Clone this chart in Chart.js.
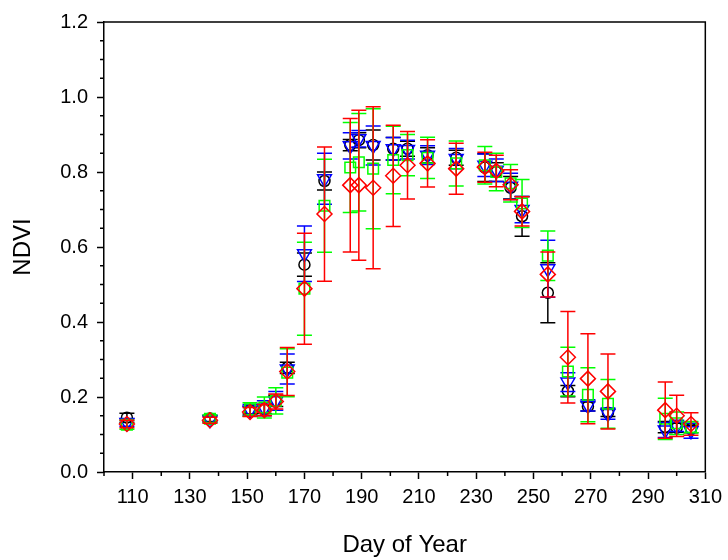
<!DOCTYPE html>
<html>
<head>
<meta charset="utf-8">
<title>NDVI by Day of Year</title>
<script src="https://cdn.jsdelivr.net/npm/chart.js@4.4.1/dist/chart.umd.min.js"></script>
<style>
    html, body { margin: 0; padding: 0; background: #ffffff; }
    canvas { display: block; }
</style>
</head>
<body>
<canvas id="ndviChart" width="728" height="560"></canvas>
<script>
// Sampling days (x)
const days = [108, 137, 151, 156, 160, 164, 170, 177, 186, 189, 194, 201, 206,
              213, 223, 233, 237, 242, 246, 255, 262, 269, 276, 296, 300, 305];

// NDVI means and error bar half-widths, one pair per marker series
const blackNdvi = [0.145, 0.143, 0.165, 0.168, 0.190, 0.278, 0.553, 0.776, 0.872, 0.885, 0.872, 0.862, 0.862,
                   0.845, 0.838, 0.812, 0.800, 0.758, 0.682, 0.478, 0.216, 0.175, 0.158, 0.120, 0.118, 0.115];
const blackErr  = [0.012, 0.008, 0.010, 0.012, 0.015, 0.015, 0.031, 0.024, 0.015, 0.020, 0.040, 0.030, 0.020,
                   0.020, 0.020, 0.037, 0.025, 0.030, 0.053, 0.080, 0.015, 0.012, 0.010, 0.015, 0.012, 0.010];

const blueNdvi  = [0.132, 0.140, 0.165, 0.170, 0.190, 0.275, 0.582, 0.782, 0.870, 0.889, 0.871, 0.862, 0.860,
                   0.845, 0.836, 0.818, 0.805, 0.762, 0.700, 0.542, 0.240, 0.178, 0.156, 0.112, 0.123, 0.110];
const blueErr   = [0.010, 0.008, 0.015, 0.020, 0.025, 0.040, 0.074, 0.068, 0.035, 0.022, 0.052, 0.030, 0.025,
                   0.025, 0.027, 0.030, 0.030, 0.035, 0.035, 0.076, 0.025, 0.015, 0.015, 0.020, 0.015, 0.020];

const greenNdvi = [0.126, 0.142, 0.167, 0.172, 0.190, 0.265, 0.489, 0.710, 0.812, 0.826, 0.809, 0.832, 0.845,
                   0.838, 0.823, 0.818, 0.800, 0.770, 0.716, 0.577, 0.268, 0.206, 0.182, 0.142, 0.130, 0.120];
const greenErr  = [0.012, 0.010, 0.018, 0.028, 0.035, 0.064, 0.124, 0.124, 0.120, 0.130, 0.160, 0.090, 0.055,
                   0.055, 0.060, 0.050, 0.050, 0.050, 0.064, 0.066, 0.065, 0.072, 0.065, 0.055, 0.030, 0.015];

const redNdvi   = [0.128, 0.138, 0.160, 0.165, 0.188, 0.268, 0.489, 0.688, 0.765, 0.765, 0.758, 0.790, 0.818,
                   0.823, 0.809, 0.813, 0.803, 0.766, 0.695, 0.527, 0.306, 0.249, 0.215, 0.165, 0.150, 0.128];
const redErr    = [0.010, 0.008, 0.012, 0.015, 0.020, 0.064, 0.148, 0.179, 0.178, 0.200, 0.216, 0.135, 0.090,
                   0.063, 0.068, 0.040, 0.042, 0.040, 0.039, 0.060, 0.122, 0.120, 0.100, 0.075, 0.055, 0.030];

// Axis ticks
const xMin = 100, xMax = 310, xStep = 10;
const xLabelTicks = [110, 130, 150, 170, 190, 210, 230, 250, 270, 290, 310];
const yMin = 0, yMax = 1.2, yStep = 0.05;
const yLabelTicks = [0.0, 0.2, 0.4, 0.6, 0.8, 1.0, 1.2];

const FONT = 'Arial, "Liberation Sans", Helvetica, sans-serif';
const MINOR_TICK = 4;

function points(ys) {
    return days.map((d, i) => ({ x: d, y: ys[i] }));
}

function isXLabel(v) {
    return xLabelTicks.includes(v);
}

function isYLabel(v) {
    return yLabelTicks.some(t => Math.abs(t - v) < 1e-6);
}

// Vertical error bars with caps, drawn just under each dataset's markers
const errorBars = {
    id: 'errorBars',
    beforeDatasetDraw(chart, args) {
        const ds = chart.data.datasets[args.index];
        if (!ds.errors) return;
        const yScale = chart.scales.y;
        const ctx = chart.ctx;
        ctx.save();
        ctx.strokeStyle = ds.borderColor;
        ctx.lineWidth = 1.5;
        args.meta.data.forEach((pt, i) => {
            const v = ds.data[i].y;
            const e = ds.errors[i];
            const top = yScale.getPixelForValue(v + e);
            const bot = yScale.getPixelForValue(v - e);
            ctx.beginPath();
            ctx.moveTo(pt.x, top);
            ctx.lineTo(pt.x, bot);
            ctx.moveTo(pt.x - 7.5, top);
            ctx.lineTo(pt.x + 7.5, top);
            ctx.moveTo(pt.x - 7.5, bot);
            ctx.lineTo(pt.x + 7.5, bot);
            ctx.stroke();
        });
        ctx.restore();
    }
};

// Top and right edges of the plot box, plus the short minor ticks
const frame = {
    id: 'frame',
    afterDraw(chart) {
        const { ctx, chartArea: a, scales } = chart;
        ctx.save();
        ctx.strokeStyle = '#000';
        ctx.lineWidth = 1.5;
        ctx.beginPath();
        ctx.moveTo(a.left, a.top);
        ctx.lineTo(a.right, a.top);
        ctx.lineTo(a.right, a.bottom);
        scales.x.ticks.forEach(t => {
            if (isXLabel(t.value)) return;
            const px = scales.x.getPixelForValue(t.value);
            ctx.moveTo(px, a.bottom);
            ctx.lineTo(px, a.bottom + MINOR_TICK);
        });
        scales.y.ticks.forEach(t => {
            if (isYLabel(t.value)) return;
            const py = scales.y.getPixelForValue(t.value);
            ctx.moveTo(a.left, py);
            ctx.lineTo(a.left - MINOR_TICK, py);
        });
        ctx.stroke();
        ctx.restore();
    }
};

const ctx = document.getElementById('ndviChart');
new Chart(ctx.getContext('2d'), {
    type: 'scatter',
    data: {
        datasets: [
            {
                label: 'Black',
                data: points(blackNdvi),
                errors: blackErr,
                borderColor: '#000000',
                pointStyle: 'circle',
                pointRadius: 5.5,
                order: 4
            },
            {
                label: 'Blue',
                data: points(blueNdvi),
                errors: blueErr,
                borderColor: '#0000ff',
                pointStyle: 'triangle',
                pointRotation: 180,
                pointRadius: 8,
                order: 3
            },
            {
                label: 'Green',
                data: points(greenNdvi),
                errors: greenErr,
                borderColor: '#00ff00',
                pointStyle: 'rect',
                pointRadius: 7.5,
                order: 2
            },
            {
                label: 'Red',
                data: points(redNdvi),
                errors: redErr,
                borderColor: '#ff0000',
                pointStyle: 'rectRot',
                pointRadius: 7.5,
                order: 1
            }
        ]
    },
    options: {
        responsive: false,
        animation: false,
        events: [],
        layout: {
            padding: { left: 0, right: 19, top: 22, bottom: 0 }
        },
        elements: {
            point: {
                backgroundColor: 'rgba(0,0,0,0)',
                borderWidth: 1.5
            }
        },
        scales: {
            x: {
                type: 'linear',
                min: xMin,
                max: xMax,
                afterFit: (scale) => { scale.height = 88; },
                grid: {
                    drawOnChartArea: false,
                    drawTicks: true,
                    tickLength: 7,
                    tickColor: (c) => (c.tick && isXLabel(c.tick.value)) ? '#000' : 'rgba(0,0,0,0)',
                    tickWidth: 1.5
                },
                border: { display: true, color: '#000', width: 1.5 },
                ticks: {
                    stepSize: xStep,
                    autoSkip: false,
                    maxRotation: 0,
                    maxTicksLimit: 100,
                    padding: 6,
                    color: '#000',
                    font: { family: FONT, size: 20 },
                    callback: (v) => isXLabel(v) ? String(v) : ''
                },
                title: {
                    display: true,
                    text: 'Day of Year',
                    color: '#000',
                    font: { family: FONT, size: 24 },
                    padding: { top: 0, bottom: 0 }
                }
            },
            y: {
                type: 'linear',
                min: yMin,
                max: yMax,
                afterFit: (scale) => { scale.width = 104; },
                grid: {
                    drawOnChartArea: false,
                    drawTicks: true,
                    tickLength: 7,
                    tickColor: (c) => (c.tick && isYLabel(c.tick.value)) ? '#000' : 'rgba(0,0,0,0)',
                    tickWidth: 1.5
                },
                border: { display: true, color: '#000', width: 1.5 },
                ticks: {
                    stepSize: yStep,
                    autoSkip: false,
                    maxTicksLimit: 100,
                    padding: 9,
                    color: '#000',
                    font: { family: FONT, size: 20 },
                    callback: (v) => isYLabel(v) ? (Math.round(v * 10) / 10).toFixed(1) : ''
                },
                title: {
                    display: true,
                    text: 'NDVI',
                    color: '#000',
                    font: { family: FONT, size: 24 },
                    padding: { top: 9, bottom: 0 }
                }
            }
        },
        plugins: {
            legend: { display: false },
            tooltip: { enabled: false }
        }
    },
    plugins: [errorBars, frame]
});
</script>
</body>
</html>
